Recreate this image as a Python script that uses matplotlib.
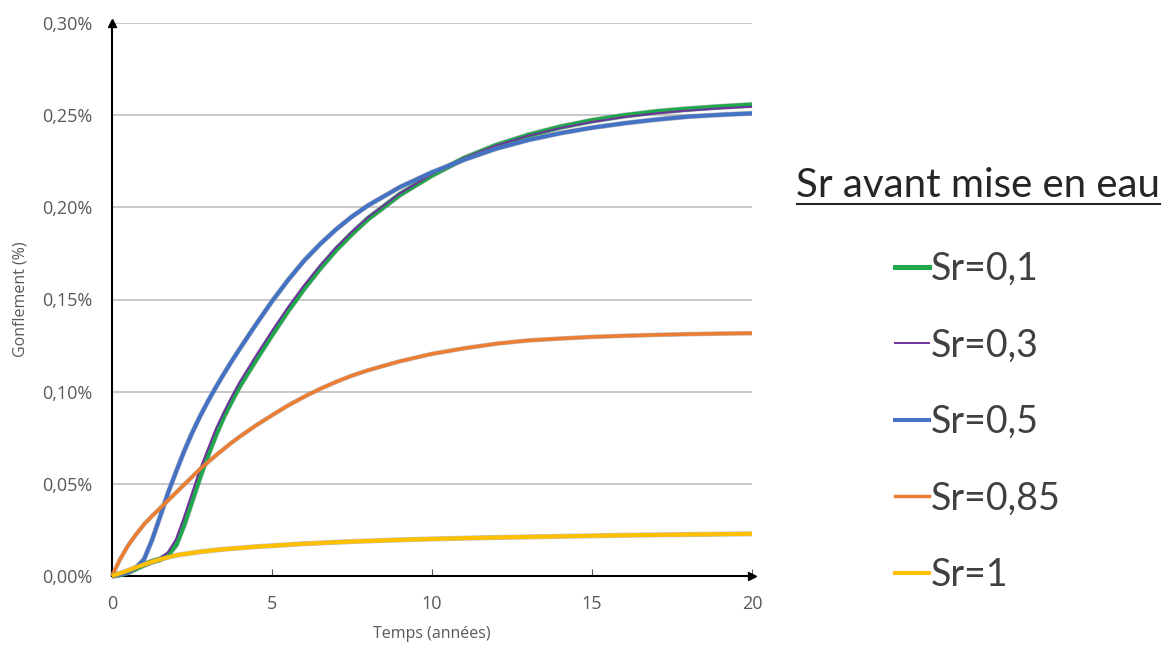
import matplotlib.pyplot as plt
import matplotlib.patheffects as pe
from matplotlib.lines import Line2D
from matplotlib.ticker import FuncFormatter

# time (years)
temps = [0, 0.25, 0.5, 0.75, 1, 1.25, 1.5, 1.75, 2, 2.25, 2.5, 2.75, 3, 3.25, 3.5, 3.75, 4,
         4.5, 5, 5.5, 6, 6.5, 7, 7.5, 8,
         9, 10, 11, 12, 13, 14, 15, 16, 17, 18, 19, 20]

# swelling (%) for each Sr before immersion
sr_01 = [0, 0.0008, 0.002, 0.004, 0.006, 0.0078, 0.009, 0.0115, 0.017, 0.028, 0.041, 0.054,
         0.066, 0.077, 0.087, 0.0955, 0.1035,
         0.1175, 0.131, 0.144, 0.156, 0.167, 0.177, 0.1858, 0.1938,
         0.207, 0.2175, 0.2265, 0.2335, 0.239, 0.2435, 0.247, 0.2497, 0.2518, 0.2533, 0.2545, 0.2555]
sr_03 = [0, 0.0008, 0.002, 0.004, 0.006, 0.008, 0.0095, 0.013, 0.020, 0.032, 0.045, 0.058,
         0.069, 0.080, 0.089, 0.0975, 0.1055,
         0.1195, 0.133, 0.1458, 0.1576, 0.1684, 0.1782, 0.1868, 0.1946,
         0.2076, 0.218, 0.2268, 0.2335, 0.2388, 0.243, 0.2463, 0.249, 0.251, 0.2525, 0.2537, 0.2546]
sr_05 = [0, 0.0008, 0.002, 0.0045, 0.009, 0.0195, 0.032, 0.045, 0.0565, 0.0675, 0.0775, 0.0866,
         0.0948, 0.1025, 0.1098, 0.1168, 0.1235,
         0.1365, 0.149, 0.1605, 0.171, 0.18, 0.188, 0.195, 0.201,
         0.211, 0.219, 0.2258, 0.2318, 0.2365, 0.2402, 0.2432, 0.2456, 0.2476, 0.2492, 0.2502, 0.251]
sr_085 = [0, 0.009, 0.0165, 0.0225, 0.028, 0.0325, 0.0367, 0.041, 0.0452, 0.0495, 0.0537, 0.058,
          0.0618, 0.0655, 0.069, 0.0725, 0.0757,
          0.0817, 0.0872, 0.0925, 0.0972, 0.1015, 0.1053, 0.1087, 0.1116,
          0.1165, 0.1205, 0.1235, 0.126, 0.1278, 0.1288, 0.1297, 0.1303, 0.1308, 0.1312, 0.1315, 0.1317]
sr_1 = [0, 0.0015, 0.003, 0.0047, 0.0062, 0.0077, 0.009, 0.0102, 0.0112, 0.0119, 0.0125, 0.0131,
        0.0136, 0.0141, 0.0145, 0.0149, 0.0152,
        0.0159, 0.0164, 0.017, 0.0175, 0.0179, 0.0183, 0.0187, 0.019,
        0.0196, 0.0201, 0.0205, 0.0209, 0.0212, 0.0215, 0.0218, 0.0221, 0.0223, 0.0225, 0.0227, 0.0229]

series = [sr_01, sr_03, sr_05, sr_085, sr_1]
labels = ["Sr=0,1", "Sr=0,3", "Sr=0,5", "Sr=0,85", "Sr=1"]
colors = ["#1fa84a", "#7030a0", "#4472c4", "#ed7d31", "#ffc000"]
widths = [3.6, 1.4, 2.9, 2.5, 2.9]

fig = plt.figure(figsize=(11.64, 6.45), dpi=100)
ax = fig.add_axes([112/1164, 69/645, 640/1164, 553/645])

handles = []
for y, lab, c, lw in zip(series, labels, colors, widths):
    effects = [pe.Stroke(linewidth=lw + 0.8, foreground="#808080", alpha=0.5), pe.Normal()]
    if lw < 2:
        effects = None
    ax.plot(temps, y, color=c, lw=lw, label=lab, path_effects=effects,
            solid_capstyle="butt", solid_joinstyle="round", clip_on=False)
    handles.append(Line2D([0], [0], color=c, lw=lw))

ax.set_xlim(0, 20)
ax.set_ylim(0, 0.30)
ax.set_xticks([0, 5, 10, 15, 20])
ax.set_yticks([0, 0.05, 0.10, 0.15, 0.20, 0.25, 0.30])
ax.yaxis.set_major_formatter(FuncFormatter(lambda v, p: f"{v:.2f}%".replace(".", ",")))
ax.grid(axis="y", color="#bfbfbf", lw=1.2)
ax.set_axisbelow(True)

for s in ["top", "right"]:
    ax.spines[s].set_visible(False)
for s in ["left", "bottom"]:
    ax.spines[s].set_color("black")
    ax.spines[s].set_linewidth(1.5)
    ax.spines[s].set_zorder(1.5)

ax.tick_params(axis="y", length=0, pad=14, labelsize=13, labelcolor="#595959", labelfontfamily="Open Sans")
ax.tick_params(axis="x", direction="in", length=5, color="#595959", pad=14,
               labelsize=13, labelcolor="#595959", labelfontfamily="Open Sans")

# arrow heads on the axes
ax.plot(0, 1, "^k", ms=6, transform=ax.transAxes, clip_on=False)
ax.plot(1, 0, ">k", ms=6, transform=ax.transAxes, clip_on=False)

ax.set_xlabel("Temps (années)", fontsize=11.5, color="#595959", family="Open Sans", labelpad=9)
ax.set_ylabel("Gonflement (%)", fontsize=11.5, color="#595959", family="Open Sans", labelpad=10)

# legend
fig.text(978/1164, 1 - 185/645, "Sr avant mise en eau", fontsize=29, color="#262626",
         family="Lato", ha="center", va="center")
fig.add_artist(Line2D([797/1164, 1160/1164], [1 - 204/645, 1 - 204/645],
                      color="#262626", lw=1.5))
fig.legend(handles, labels, loc="upper left", bbox_to_anchor=(895/1164, 1 - 251/645),
           bbox_transform=fig.transFigure, frameon=False, borderpad=0, borderaxespad=0,
           prop={"family": "Lato", "size": 27}, labelcolor="#404040",
           handlelength=0.9, handletextpad=0.05, labelspacing=1.08)

fig.savefig("out.png", dpi=100)
